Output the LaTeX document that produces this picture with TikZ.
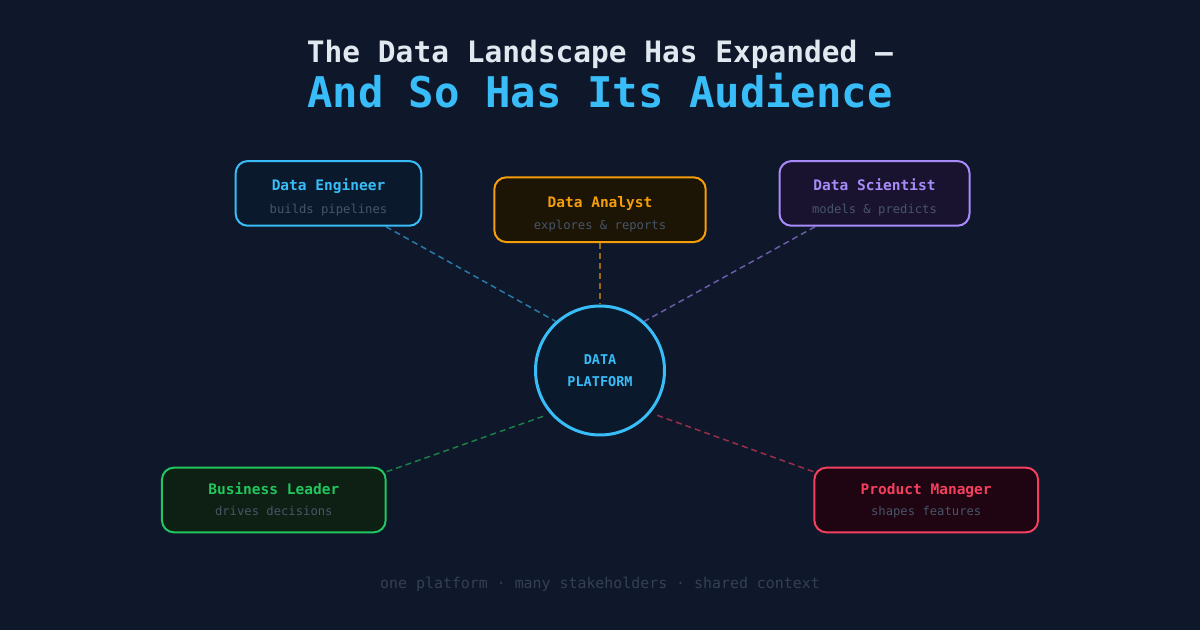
\documentclass[tikz,border=0pt]{standalone}
\usepackage{fontspec}
\setmonofont{DejaVu Sans Mono}
\usetikzlibrary{calc}
\definecolor{bgnavy}{HTML}{0F172A}
\definecolor{sky}{HTML}{38BDF8}
\definecolor{skyfill}{HTML}{0A1A2C}
\definecolor{amber}{HTML}{F59E0B}
\definecolor{amberfill}{HTML}{1C1404}
\definecolor{lilac}{HTML}{A78BFA}
\definecolor{lilacfill}{HTML}{19132F}
\definecolor{leaf}{HTML}{22C55E}
\definecolor{leaffill}{HTML}{0D2013}
\definecolor{rose}{HTML}{F43F5E}
\definecolor{rosefill}{HTML}{1E0511}
\definecolor{headgray}{HTML}{E2E8F0}
\definecolor{subgray}{HTML}{475569}
\definecolor{footgray}{HTML}{334155}

\begin{document}
\begin{tikzpicture}[x=1pt, y=1pt, every node/.style={font=\ttfamily},
  role/.style={draw=#1, fill=#1fill, line width=2pt, rounded corners=12pt,
    minimum height=64.7pt, inner sep=0pt},
  ttl/.style={text=#1, anchor=base, inner sep=0pt,
    font=\ttfamily\bfseries\fontsize{14.5}{16}\selectfont},
  sub/.style={text=subgray, anchor=base, inner sep=0pt,
    font=\ttfamily\fontsize{12.2}{14}\selectfont},
  link/.style={draw=#1, draw opacity=0.6, line width=1.5pt,
    dash pattern=on 6pt off 4pt}]
  \fill[bgnavy] (0,0) rectangle (1200,630);
  \useasboundingbox (0,0) rectangle (1200,630);

  % heading
  \node[anchor=base, text=headgray, font=\ttfamily\bfseries\fontsize{29.5}{32}\selectfont]
    (head) at (600,567) {The Data Landscape Has Expanded —};
  \node[anchor=base, text=sky, font=\ttfamily\bfseries\fontsize{42.3}{44}\selectfont]
    (headsub) at (600,522.5) {And So Has Its Audience};

  % hub
  \node[circle, draw=sky, fill=skyfill, line width=3pt, minimum size=129pt,
    align=center, text=sky, font=\ttfamily\bfseries\fontsize{13.5}{22.3}\selectfont]
    (plat) at (600,259.5) {DATA\\PLATFORM};

  % roles, top row
  \node[role=sky, minimum width=185.6pt]   (eng)  at (328.5,436.6) {};
  \node[ttl=sky]   at ([yshift=2.5pt]eng.center)  {Data Engineer};
  \node[sub]       at ([yshift=-20pt]eng.center)  {builds pipelines};

  \node[role=amber, minimum width=211.4pt] (ana)  at (600,420.3) {};
  \node[ttl=amber] at ([yshift=2.5pt]ana.center)  {Data Analyst};
  \node[sub]       at ([yshift=-20pt]ana.center)  {explores \& reports};

  \node[role=lilac, minimum width=190pt]   (sci)  at (874.5,436.6) {};
  \node[ttl=lilac] at ([yshift=2.5pt]sci.center)  {Data Scientist};
  \node[sub]       at ([yshift=-20pt]sci.center)  {models \& predicts};

  % roles, bottom row
  \node[role=leaf, minimum width=223.7pt]  (lead) at (273.8,130) {};
  \node[ttl=leaf]  at ([yshift=5.7pt]lead.center)  {Business Leader};
  \node[sub]       at ([yshift=-15.7pt]lead.center) {drives decisions};

  \node[role=rose, minimum width=223.7pt]  (pm)   at (926.2,130) {};
  \node[ttl=rose]  at ([yshift=5.7pt]pm.center)    {Product Manager};
  \node[sub]       at ([yshift=-15.7pt]pm.center)  {shapes features};

  % spokes
  \draw[link=sky]   ([xshift=57.5pt]eng.south) -- (plat.132);
  \draw[link=amber] (ana.south) -- (plat.north);
  \draw[link=lilac] ([xshift=-59.5pt]sci.south) -- (plat.48);
  \draw[link=leaf, shorten >=5pt] ([yshift=-5pt]lead.north east) -- (plat.221);
  \draw[link=rose, shorten >=5pt] ([yshift=-5pt]pm.north west) -- (plat.-40);

  % footer
  \node[anchor=base, text=footgray, font=\ttfamily\fontsize{14.9}{16}\selectfont]
    (foot) at (600,41.7) {one platform · many stakeholders · shared context};
\end{tikzpicture}
\end{document}
